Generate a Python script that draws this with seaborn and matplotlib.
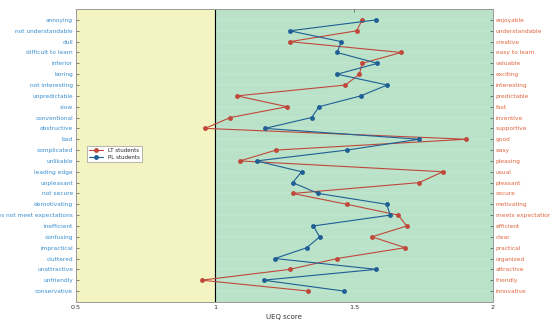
import matplotlib
matplotlib.use("Agg")
import matplotlib.pyplot as plt
import seaborn as sns

# item pairs (negative pole left, positive pole right)
left_labels = ["annoying", "not understandable", "dull", "difficult to learn", "inferior",
               "boring", "not interesting", "unpredictable", "slow", "conventional",
               "obstructive", "bad", "complicated", "unlikable", "leading edge",
               "unpleasant", "not secure", "demotivating", "does not meet expectations",
               "inefficient", "confusing", "impractical", "cluttered", "unattractive",
               "unfriendly", "conservative"]
right_labels = ["enjoyable", "understandable", "creative", "easy to learn", "valuable",
                "exciting", "interesting", "predictable", "fast", "inventive",
                "supportive", "good", "easy", "pleasing", "usual",
                "pleasant", "secure", "motivating", "meets expectations",
                "efficient", "clear", "practical", "organized", "attractive",
                "friendly", "innovative"]

lt_scores = [1.53, 1.51, 1.27, 1.67, 1.53, 1.52, 1.47, 1.08, 1.26, 1.055,
             0.965, 1.905, 1.22, 1.09, 1.82, 1.735, 1.28, 1.475, 1.66,
             1.69, 1.565, 1.685, 1.44, 1.27, 0.952, 1.335]
pl_scores = [1.578, 1.27, 1.455, 1.44, 1.585, 1.44, 1.62, 1.525, 1.375, 1.348,
             1.18, 1.734, 1.475, 1.15, 1.312, 1.28, 1.372, 1.618, 1.631,
             1.354, 1.377, 1.331, 1.216, 1.58, 1.175, 1.463]

pos = list(range(1, len(left_labels) + 1))

sns.set_style("white")
plt.rcParams["font.family"] = ["DejaVu Sans"]

fig = plt.figure(figsize=(5.5, 3.26), dpi=100)
ax = fig.add_axes([0.138, 0.074, 0.758, 0.898])

ax.axvspan(0.5, 1, color="#f4f3c2", zorder=0)
ax.axvspan(1, 2, color="#b9e2c9", zorder=0)
for p in pos:
    ax.axhline(p, color="white", lw=0.3, alpha=0.35, zorder=0.5)
ax.axvline(1, color="black", lw=0.8, zorder=1)

sns.lineplot(x=lt_scores, y=pos, orient="y", estimator=None, marker="o",
             color="#c0483a", lw=0.8, markersize=3.5, markeredgewidth=0,
             label="LT students", ax=ax)
sns.lineplot(x=pl_scores, y=pos, orient="y", estimator=None, marker="o",
             color="#1f5f95", lw=0.8, markersize=3.5, markeredgewidth=0,
             label="PL students", ax=ax)

ax.set_xlim(0.5, 2)
ax.set_ylim(27, 0)
ax.set_xticks([0.5, 1, 1.5, 2])
ax.set_xticklabels(["0.5", "1", "1.5", "2"])
ax.set_yticks(pos)
ax.set_yticklabels(left_labels, color="#3a8fd0")
ax.tick_params(axis="both", direction="in", labelsize=4.2, length=2.5, width=0.4,
               top=True, pad=2)
ax.tick_params(axis="x", labelcolor="#333333", labelsize=4.6)
ax.set_xlabel("UEQ score", fontsize=5, color="#333333", labelpad=3)
ax.set_ylabel("")

ax2 = ax.twinx()
ax2.set_ylim(27, 0)
ax2.set_yticks(pos)
ax2.set_yticklabels(right_labels, color="#e0663f")
ax2.tick_params(axis="y", direction="in", labelsize=4.2, length=2.5, width=0.4, pad=2)

for a in (ax, ax2):
    for s in a.spines.values():
        s.set_color("#999999")
        s.set_linewidth(0.6)

leg = ax.legend(loc="upper left", bbox_to_anchor=(0.02, 0.542), fontsize=4.0,
                frameon=True, fancybox=False, edgecolor="#999999", framealpha=1,
                handlelength=2.5, borderpad=0.4, labelspacing=0.3)
leg.get_frame().set_linewidth(0.5)

fig.savefig("out.png", dpi=100)
